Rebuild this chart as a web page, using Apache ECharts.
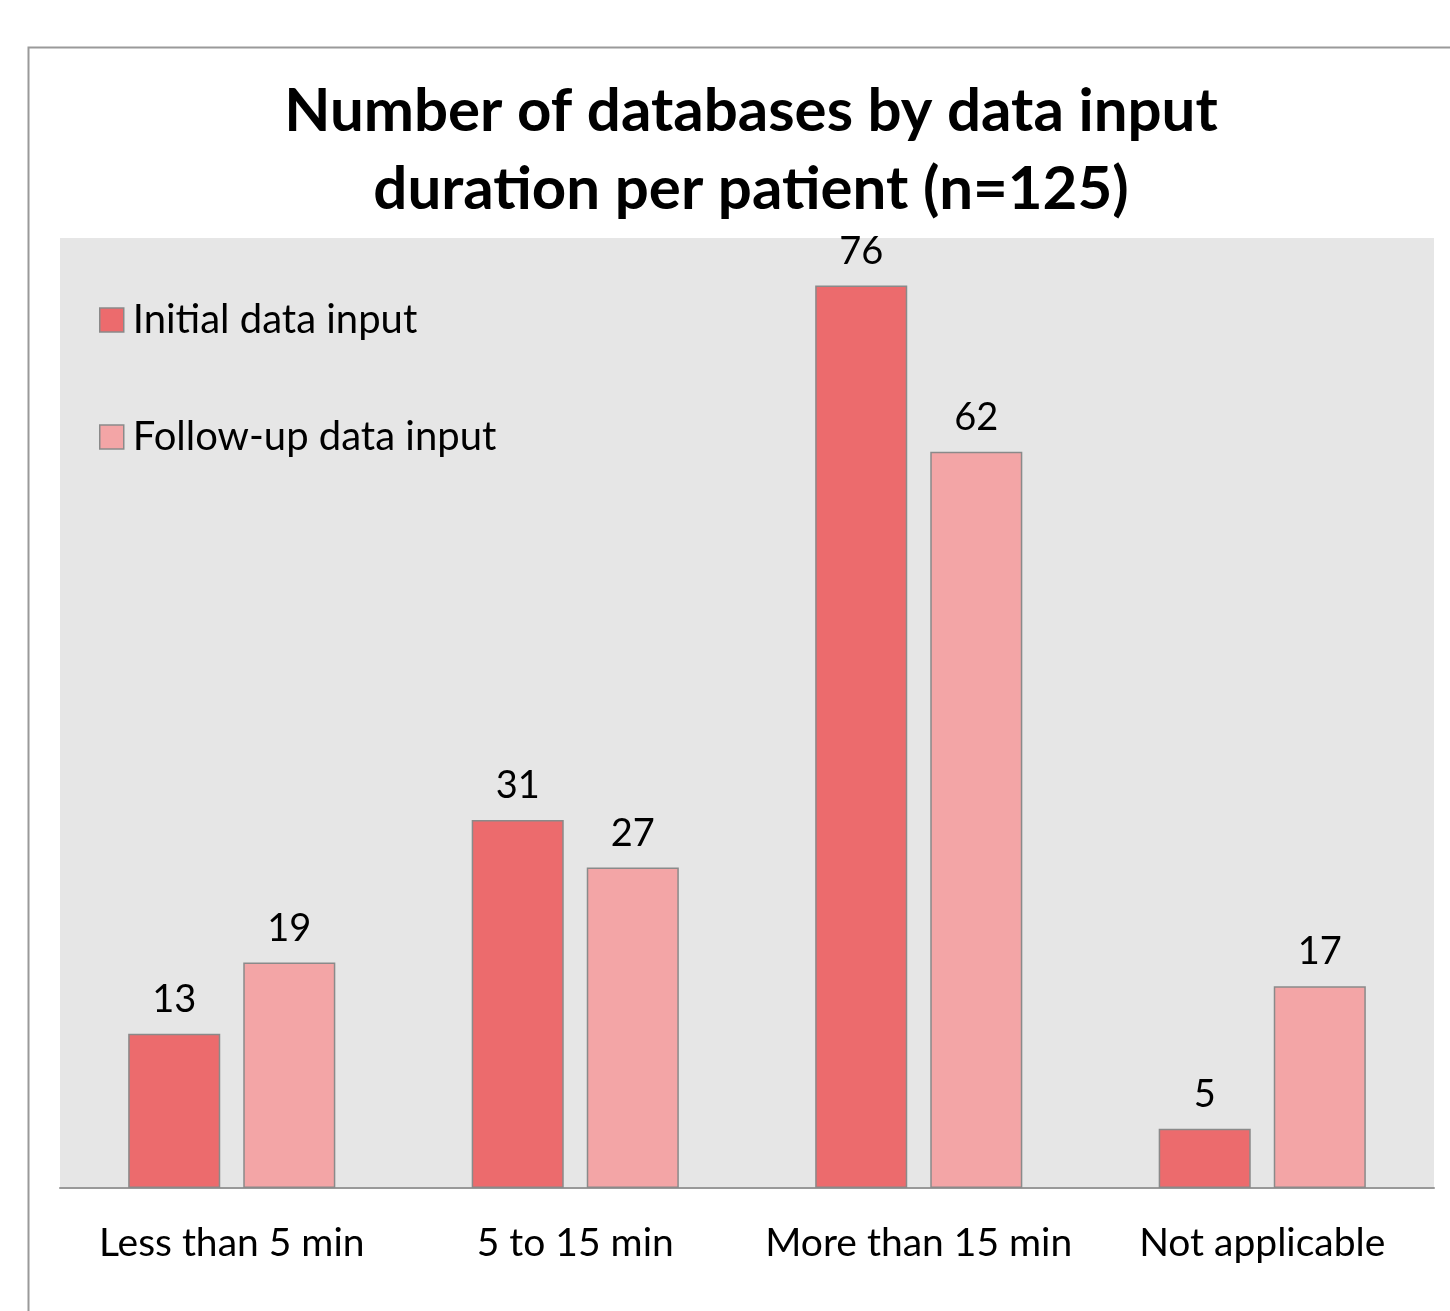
<!DOCTYPE html>
<html>
<head>
<meta charset="utf-8">
<script src="https://cdn.jsdelivr.net/npm/echarts@6/dist/echarts.min.js"></script>
<style>
  html, body { margin: 0; padding: 0; background: #fff; }
  #chart { width: 1450px; height: 1311px; }
</style>
</head>
<body>
<div id="chart"></div>
<script>
// data
const categories = ["Less than 5 min", "5 to 15 min", "More than 15 min", "Not applicable"];
const initialInput = [13, 31, 76, 5];
const followUpInput = [19, 27, 62, 17];
const seriesNames = ["Initial data input", "Follow-up data input"];

const FONT = "Lato, 'Open Sans', sans-serif";
const chart = echarts.init(document.getElementById("chart"), null, { renderer: "canvas" });

const barStyle = (color) => ({ color, borderColor: "#8a8a8a", borderWidth: 1.5 });
const label = {
  show: true, position: "top", distance: 15,
  fontFamily: FONT, fontSize: 38, color: "#000",
};

chart.setOption({
  animation: false,
  backgroundColor: "#fff",
  title: {
    text: "Number of databases by data input\nduration per patient (n=125)",
    left: 746, top: 68, textAlign: "center",
    textStyle: { fontFamily: FONT, fontWeight: "bold", fontSize: 60, lineHeight: 78, color: "#000" },
  },
  graphic: [{
    type: "rect", silent: true, z: -10,
    shape: { x: 28.5, y: 47.5, width: 1460, height: 1300 },
    style: { fill: "none", stroke: "#9a9a9a", lineWidth: 2 },
  }],
  legend: {
    orient: "vertical", left: 94, top: 295, itemGap: 77,
    icon: "rect", itemWidth: 24, itemHeight: 24,
    itemStyle: { borderColor: "#8a8a8a", borderWidth: 1.5 },
    textStyle: { fontFamily: FONT, fontSize: 40, color: "#000", padding: [0, 0, 0, 4] },
    data: seriesNames,
  },
  grid: { left: 60, right: 16, top: 238, bottom: 123, show: true, backgroundColor: "#e6e6e6", borderWidth: 0 },
  xAxis: {
    type: "category", data: categories,
    axisLine: { lineStyle: { color: "#999", width: 2 } },
    axisTick: { show: false },
    axisLabel: { interval: 0, fontFamily: FONT, fontSize: 39, color: "#000", margin: 36 },
  },
  yAxis: { type: "value", min: 0, max: 80, show: false, splitLine: { show: false } },
  series: [
    { name: seriesNames[0], type: "bar", data: initialInput, barWidth: "26.8%", barGap: "25%",
      itemStyle: barStyle("#ec6b6d"), label },
    { name: seriesNames[1], type: "bar", data: followUpInput, barWidth: "26.8%",
      itemStyle: barStyle("#f3a5a6"), label },
  ],
});
</script>
</body>
</html>
